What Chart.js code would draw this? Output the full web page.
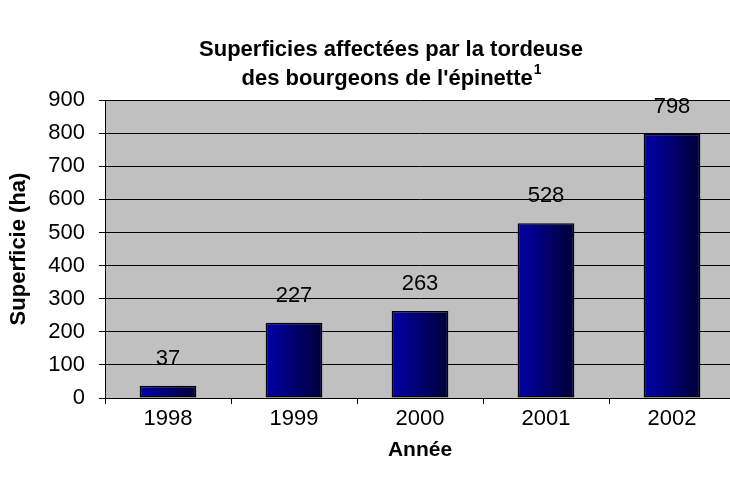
<!DOCTYPE html>
<html><head><meta charset="utf-8">
<script src="https://cdn.jsdelivr.net/npm/chart.js@4/dist/chart.umd.min.js"></script>
<style>html,body{margin:0;padding:0;background:#fff;overflow:hidden;width:730px;height:482px}#wrap{width:730px;height:482px;overflow:hidden}</style>
</head><body><div id="wrap"><canvas id="c" width="740" height="482" style="width:740px;height:482px"></canvas></div>
<script>
const categories = ['1998','1999','2000','2001','2002'];
const superficie = [37, 227, 263, 528, 798];
const titleLines = ['Superficies affectées par la tordeuse', "des bourgeons de l'épinette"];
const titleSup = '1';
const yTitle = 'Superficie (ha)';
const xTitle = 'Année';
const FONT = "'Liberation Sans', Arial, sans-serif";

const bgPlugin = {
  id: 'bg',
  beforeDraw(chart) {
    const a = chart.chartArea, ctx = chart.ctx;
    ctx.save(); ctx.fillStyle = '#C0C0C0';
    ctx.fillRect(a.left, a.top, a.right - a.left, a.bottom - a.top);
    ctx.restore();
  },
  beforeDatasetsDraw(chart) {
    const ctx = chart.ctx;
    chart.getDatasetMeta(0).data.forEach(el => {
      const g = ctx.createLinearGradient(el.x - el.width/2, 0, el.x + el.width/2, 0);
      g.addColorStop(0, '#0000A8');
      g.addColorStop(1, '#000038');
      el.options = Object.assign({}, el.options, { backgroundColor: g, borderColor: '#000', borderWidth: 1.5, borderSkipped: false, inflateAmount: 0 });
    });
  },
  afterDatasetsDraw(chart) {
    const ctx = chart.ctx;
    ctx.save();
    ctx.font = '22px ' + FONT; ctx.fillStyle = '#000';
    ctx.textAlign = 'center'; ctx.textBaseline = 'middle';
    chart.getDatasetMeta(0).data.forEach((el, i) => {
      ctx.fillText(String(superficie[i]), el.x, el.y - 27);
    });
    ctx.restore();
  },
  afterDraw(chart) {
    const ctx = chart.ctx;
    ctx.save();
    ctx.fillStyle = '#000'; ctx.textBaseline = 'middle'; ctx.textAlign = 'center';
    ctx.font = 'bold 22px ' + FONT;
    const cx = 391;
    ctx.fillText(titleLines[0], cx, 50);
    const w2 = ctx.measureText(titleLines[1]).width;
    ctx.font = 'bold 14px ' + FONT;
    const ws = ctx.measureText(titleSup).width;
    ctx.font = 'bold 22px ' + FONT;
    ctx.textAlign = 'left';
    const x0 = cx - (w2 + ws) / 2;
    ctx.fillText(titleLines[1], x0, 79);
    ctx.font = 'bold 14px ' + FONT;
    ctx.fillText(titleSup, x0 + w2 + 1, 70);
    ctx.restore();
  }
};

new Chart(document.getElementById('c'), {
  type: 'bar',
  data: { labels: categories, datasets: [{ data: superficie, backgroundColor: '#000080', borderColor: '#000', borderWidth: 1.5, borderSkipped: false, categoryPercentage: 1, barPercentage: 0.45 }] },
  options: {
    responsive: false, animation: false,
    layout: { padding: { top: 100, left: 6, right: 5, bottom: 15 } },
    plugins: { legend: { display: false }, tooltip: { enabled: false }, title: { display: false } },
    scales: {
      y: {
        min: 0, max: 900,
        ticks: { stepSize: 100, font: { size: 22, family: FONT }, color: '#000', padding: 14 },
        grid: { color: '#000', lineWidth: 1, tickLength: 6, drawTicks: true },
        border: { color: '#000', width: 1 },
        title: { display: true, text: yTitle, font: { size: 22, weight: 'bold', family: FONT }, color: '#000', padding: 0 },
        afterFit(s) { s.width = 99; }
      },
      x: {
        offset: true,
        ticks: { font: { size: 22, family: FONT }, color: '#000', padding: 2 },
        grid: { offset: true, drawOnChartArea: false, color: '#000', tickLength: 6 },
        border: { color: '#000', width: 1 },
        title: { display: true, text: xTitle, font: { size: 21, weight: 'bold', family: FONT }, color: '#000', padding: { top: 15 } },
        afterFit(s) { s.height = 69; }
      }
    }
  },
  plugins: [bgPlugin]
});
</script></body></html>
